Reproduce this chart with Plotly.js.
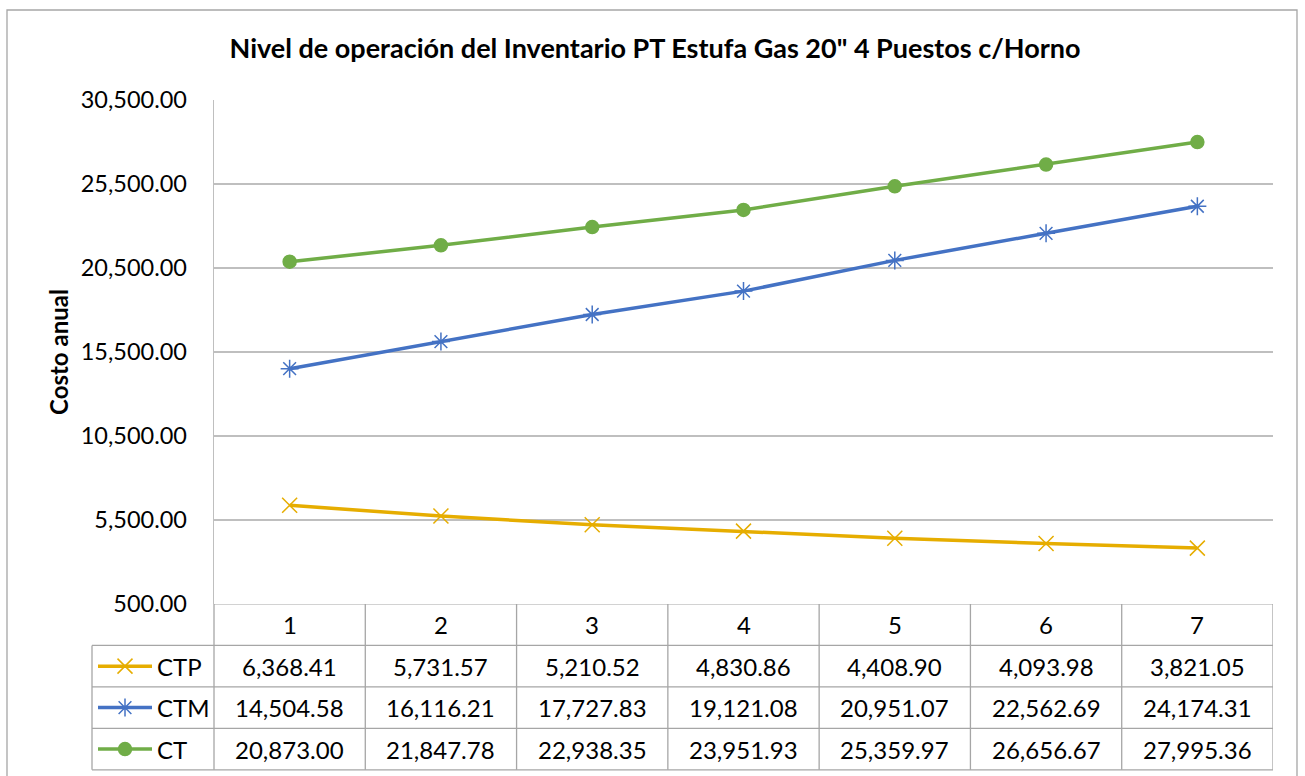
<!DOCTYPE html>
<html><head><meta charset="utf-8">
<script src="https://cdn.plot.ly/plotly-3.0.1.min.js"></script>
<style>html,body{margin:0;padding:0;background:#fff;}#chart{width:1305px;height:776px;}</style>
</head><body><div id="chart"></div>
<script>
// ---- data ----
const categories = [1, 2, 3, 4, 5, 6, 7];
const seriesNames = ['CTP', 'CTM', 'CT'];
const ctp = [6368.41, 5731.57, 5210.52, 4830.86, 4408.90, 4093.98, 3821.05];
const ctm = [14504.58, 16116.21, 17727.83, 19121.08, 20951.07, 22562.69, 24174.31];
const ct  = [20873.00, 21847.78, 22938.35, 23951.93, 25359.97, 26656.67, 27995.36];
const yTicks = [500, 5500, 10500, 15500, 20500, 25500, 30500];
const titleText = 'Nivel de operación del Inventario PT Estufa Gas 20" 4 Puestos c/Horno';
const yTitle = 'Costo anual';

// ---- styles / geometry ----
const FONT = 'Lato, "Open Sans", sans-serif';
const colors = ['#E6AD00', '#4472C4', '#70AD47'];
const symbols = ['x-thin', 'asterisk-open', 'circle'];
const msize = [15, 15, 13];
const W = 1305, H = 776;
const PL = 214, PR = 1273;           // plot left/right px
const colW = (PR - PL) / categories.length;
const ML = 86, MR = W - PR;
const TABLE_LEFT_PX = 92;
const PT = 100, TABLE_TOP = 604, rowH = 41.5;
const nRows = 4, yExtra = 0.1;
const tableBottomPx = TABLE_TOP + (nRows + yExtra) * rowH;
const MB = H - tableBottomPx;
const paperW = W - ML - MR, paperH = H - PT - MB;
const xDomLeft = (PL - ML) / paperW;
const yDomSplit = (tableBottomPx - TABLE_TOP) / paperH;
const x2Left = 0.5 - (PL - ML) / colW;
const legLeft = 0.5 - (PL - TABLE_LEFT_PX) / colW;
const px2u = px => 0.5 - (PL - px) / colW;
const symL = px2u(98), symR = px2u(152), symC = px2u(125), txtX = px2u(155);
const gridCol = '#BFBFBF', tableCol = '#A6A6A6';
const fmt = v => v.toLocaleString('en-US', {minimumFractionDigits: 2, maximumFractionDigits: 2});
const TFS = 24;

const allSeries = [ctp, ctm, ct];
const traces = [];
allSeries.forEach((s, i) => {
  traces.push({
    x: categories, y: s, type: 'scatter', mode: 'lines+markers', name: seriesNames[i],
    xaxis: 'x', yaxis: 'y',
    line: {color: colors[i], width: 3.5},
    marker: {symbol: symbols[i], size: msize[i], color: colors[i], line: {color: colors[i], width: 1.5}},
    showlegend: false, hoverinfo: 'x+y'
  });
  traces.push({
    x: [symL, symR], y: [i + 1.5, i + 1.5], type: 'scatter', mode: 'lines',
    xaxis: 'x2', yaxis: 'y2', line: {color: colors[i], width: 3.5}, showlegend: false, hoverinfo: 'skip'
  });
  traces.push({
    x: [symC], y: [i + 1.5], type: 'scatter', mode: 'markers',
    xaxis: 'x2', yaxis: 'y2',
    marker: {symbol: symbols[i], size: msize[i], color: colors[i], line: {color: colors[i], width: 1.5}},
    showlegend: false, hoverinfo: 'skip'
  });
});

const shapes = [];
const ln = (x0, y0, x1, y1) => shapes.push({type: 'line', xref: 'x2', yref: 'y2', x0, y0, x1, y1, line: {color: tableCol, width: 1.3}});
ln(0.5, 0, categories.length + 0.5, 0);
for (let r = 1; r <= nRows; r++) ln(legLeft, r, categories.length + 0.5, r);
for (let c = 0; c <= categories.length; c++) ln(c + 0.5, 0, c + 0.5, nRows);
ln(legLeft, 1, legLeft, nRows);
shapes.push({type: 'rect', xref: 'paper', yref: 'paper',
  x0: (7 - ML) / paperW, x1: (1297 - ML) / paperW,
  y0: (H - MB - 800) / paperH, y1: (H - MB - 10) / paperH,
  line: {color: '#A6A6A6', width: 1.3}, fillcolor: 'rgba(0,0,0,0)', layer: 'below'});

const annotations = [];
categories.forEach((c, j) => {
  annotations.push({x: c, y: 0.5, xref: 'x2', yref: 'y2', text: String(c), showarrow: false,
    font: {family: FONT, size: TFS, color: '#000'}});
  allSeries.forEach((s, i) => {
    annotations.push({x: c, y: i + 1.5, xref: 'x2', yref: 'y2', text: fmt(s[j]), showarrow: false,
      font: {family: FONT, size: TFS, color: '#000'}});
  });
});
seriesNames.forEach((n, i) => {
  annotations.push({x: txtX, y: i + 1.5, xref: 'x2', yref: 'y2', text: n, xanchor: 'left', showarrow: false,
    font: {family: FONT, size: TFS, color: '#000'}});
});
annotations.push({x: (59 - ML) / paperW, y: 0.5, xref: 'paper', yref: 'y domain', text: '<b>' + yTitle + '</b>',
  xanchor: 'center', yanchor: 'middle',
  textangle: -90, showarrow: false, font: {family: FONT, size: 24, color: '#000'}});

const layout = {
  width: W, height: H,
  margin: {l: ML, r: MR, t: PT, b: MB, pad: 0},
  paper_bgcolor: '#fff', plot_bgcolor: '#fff',
  title: {text: '<b>' + titleText + '</b>', x: 655 / W, xref: 'container', xanchor: 'center',
    y: 1 - 49 / H, yref: 'container', yanchor: 'middle',
    font: {family: FONT, size: 27, color: '#000'}},
  xaxis: {domain: [xDomLeft, 1], range: [0.5, categories.length + 0.5], showgrid: false, zeroline: false,
    showticklabels: false, showline: false, ticks: '', fixedrange: true},
  yaxis: {domain: [yDomSplit, 1], range: [yTicks[0], yTicks[yTicks.length - 1]], tickvals: yTicks,
    tickformat: ',.2f', showgrid: true, gridcolor: gridCol, gridwidth: 1.3, zeroline: false,
    showline: true, linecolor: gridCol, linewidth: 1.3, ticks: '', ticklabelstandoff: 21,
    tickfont: {family: FONT, size: 23.5, color: '#000'}, fixedrange: true},
  xaxis2: {domain: [0, 1], anchor: 'y2', range: [x2Left, categories.length + 0.5], showgrid: false,
    zeroline: false, showticklabels: false, showline: false, ticks: '', fixedrange: true},
  yaxis2: {domain: [0, yDomSplit], anchor: 'x2', range: [nRows + yExtra, 0], showgrid: false,
    zeroline: false, showticklabels: false, showline: false, ticks: '', fixedrange: true},
  shapes, annotations, showlegend: false
};
Plotly.newPlot('chart', traces, layout, {staticPlot: true, displayModeBar: false});
</script></body></html>
